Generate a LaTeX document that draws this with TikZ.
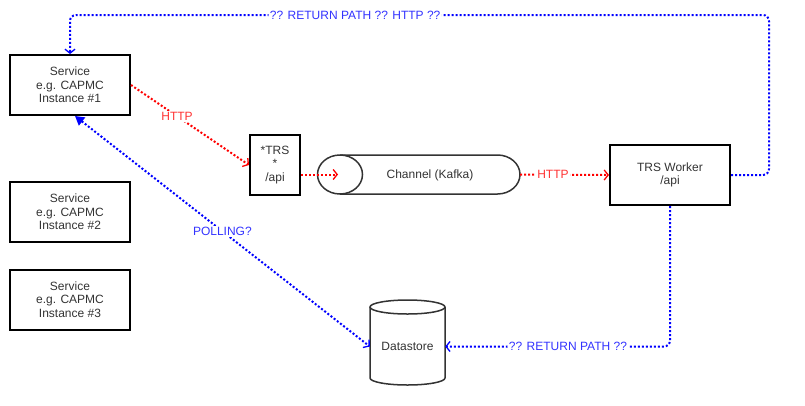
\documentclass[tikz,border=0pt]{standalone}
\usepackage{fontspec}
\setmainfont{Liberation Sans}
\usetikzlibrary{arrows.meta}
\definecolor{txt}{HTML}{333333}
\definecolor{lred}{HTML}{FF3333}
\definecolor{lblue}{HTML}{3333FF}
\begin{document}
\begin{tikzpicture}[x=1pt,y=-1pt,font=\fontsize{12}{13.5}\selectfont,
  box/.style={draw=black,line width=2pt,minimum width=120pt,minimum height=60pt,align=center,text=txt,inner sep=0pt},
  cyl/.style={draw=txt,line width=1.5pt,fill=white},
  dotl/.style={line width=2pt,dash pattern=on 2pt off 2pt},
  redl/.style={dotl,draw=red},
  bluel/.style={dotl,draw=blue},
  openar/.style={-{Straight Barb[length=4pt,width=10pt,line width=1.3pt]}},
  lblr/.style={fill=white,text=lred,inner sep=1.5pt},
  lblb/.style={fill=white,text=lblue,inner sep=1.5pt}]
\useasboundingbox (0,0) rectangle (805,405);

% services
\node[box] (s1) at (70,85) {Service\\e.g. CAPMC\\Instance \#1};
\node[box] (s2) at (70,212) {Service\\e.g. CAPMC\\Instance \#2};
\node[box] (s3) at (70,299.5) {Service\\e.g. CAPMC\\Instance \#3};

% TRS api
\node[box,minimum width=50pt,minimum height=60pt] (trs) at (275,165) {*TRS\\*\\/api};

% channel (horizontal cylinder)
\draw[cyl] (340,155) -- (497.5,155)
  arc[start angle=-90,end angle=90,x radius=22.5,y radius=19.5]
  -- (340,194)
  arc[start angle=90,end angle=270,x radius=22.5,y radius=19.5] -- cycle;
\draw[cyl,fill=none] (340,155) arc[start angle=-90,end angle=90,x radius=22.5,y radius=19.5];
\node[inner sep=0pt,text=txt] (ch) at (430,175) {Channel (Kafka)};
\coordinate (chw) at (338,174.5);
\coordinate (che) at (520,174.5);

% worker
\node[box] (wk) at (670,175) {TRS Worker\\/api};

% datastore
\draw[cyl] (370,307) -- (370,378)
  arc[start angle=180,end angle=0,x radius=37.5,y radius=7]
  -- (445,307);
\draw[cyl] (407.5,307) ellipse[x radius=37.5,y radius=7];
\node[minimum width=75pt,minimum height=77pt,inner sep=0pt,text=txt] (ds) at (407.5,346.5) {Datastore};

% red connectors
\draw[redl,openar,draw=red] (s1.east) -- node[lblr,pos=0.39]{HTTP} (trs.west);
\draw[redl,openar] (trs.east |- chw) -- (chw);
\draw[redl,openar] (che) -- node[lblr,pos=0.37]{HTTP} (wk.west);

% blue connectors
\draw[bluel,openar,rounded corners=6pt] (wk.east) -- (769,175) -- (769,15)
  -- node[lblb,pos=0.592]{?? RETURN PATH ?? HTTP ??} (70,15) -- (s1.north);
\draw[bluel,{Triangle[length=9pt,width=10pt]}-{Straight Barb[length=4pt,width=10pt,line width=1.3pt]}]
  ([xshift=5pt]s1.south) -- node[lblb,pos=0.5]{POLLING?} (ds.west);
\draw[bluel,openar,rounded corners=6pt] (wk.south) |- node[lblb,pos=0.727]{?? RETURN PATH ??} (ds.east);
\end{tikzpicture}
\end{document}
